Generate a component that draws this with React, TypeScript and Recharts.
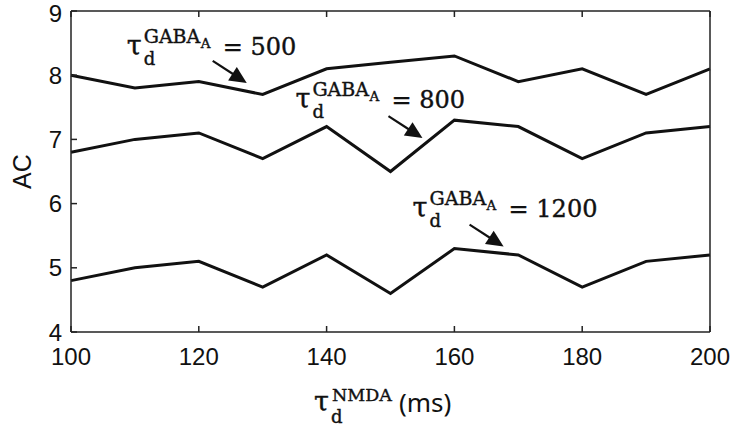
import React from "react";
import { LineChart, Line, XAxis, YAxis, ReferenceDot } from "recharts";

// tau_d^NMDA (ms)
const NMDA_TAU = [100, 110, 120, 130, 140, 150, 160, 170, 180, 190, 200];
// AC for each tau_d^GABA_A
const AC_GABA_500 = [8.0, 7.8, 7.9, 7.7, 8.1, 8.2, 8.3, 7.9, 8.1, 7.7, 8.1];
const AC_GABA_800 = [6.8, 7.0, 7.1, 6.7, 7.2, 6.5, 7.3, 7.2, 6.7, 7.1, 7.2];
const AC_GABA_1200 = [4.8, 5.0, 5.1, 4.7, 5.2, 4.6, 5.3, 5.2, 4.7, 5.1, 5.2];

const X_TICKS = [100, 120, 140, 160, 180, 200];
const Y_TICKS = [4, 5, 6, 7, 8, 9];

// annotation labels and where their arrows point (data units)
const GABA_LABELS = ["500", "800", "1200"];
const ARROW_TIP_X = [127.5, 155, 167.7];
const ARROW_TIP_Y = [7.88, 7.02, 5.33];

const data = NMDA_TAU.map((x, i) => ({
  x,
  g500: AC_GABA_500[i],
  g800: AC_GABA_800[i],
  g1200: AC_GABA_1200[i],
}));

const INK = "#111";
const FRAME = "#222";
const SANS = "'Liberation Sans', Arial, sans-serif";
const SERIF = "'DejaVu Serif', 'Liberation Serif', serif";

// tau glyph position relative to the arrow tail, per annotation
const TEXT_OFFSETS = [
  { dx: -86, dy: -6 },
  { dx: -93, dy: -8 },
  { dx: -57, dy: -8 },
];

function TauGaba({ x, y, value }: { x: number; y: number; value: string }) {
  return (
    <g fill={INK} stroke={INK} strokeWidth={0.4} fontFamily={SERIF}>
      <text x={x} y={y} fontSize={27}>τ</text>
      <text x={x + 17} y={y + 10} fontSize={18}>d</text>
      <text x={x + 17} y={y - 12} fontSize={19}>GABA</text>
      <text x={x + 74} y={y - 7} fontSize={13.5}>A</text>
      <text x={x + 96} y={y} fontSize={24}>= {value}</text>
    </g>
  );
}

function Annotation(props: any) {
  const { cx, cy, idx } = props;
  if (cx == null || cy == null) return null;
  const dx = 34;
  const dy = 22;
  const len = Math.hypot(dx, dy);
  const ux = dx / len;
  const uy = dy / len;
  const headLen = 17;
  const halfW = 8;
  const bx = cx - ux * headLen;
  const by = cy - uy * headLen;
  const nx = -uy;
  const ny = ux;
  const tailX = cx - dx;
  const tailY = cy - dy;
  const off = TEXT_OFFSETS[idx];
  return (
    <g>
      <line x1={tailX} y1={tailY} x2={bx + ux * 2} y2={by + uy * 2} stroke={INK} strokeWidth={2.2} />
      <polygon
        points={`${cx},${cy} ${bx + nx * halfW},${by + ny * halfW} ${bx - nx * halfW},${by - ny * halfW}`}
        fill={INK}
      />
      <TauGaba x={tailX + off.dx} y={tailY + off.dy} value={GABA_LABELS[idx]} />
    </g>
  );
}

function XLabel(props: any) {
  const vb = props.viewBox || {};
  const x0 = (vb.x ?? 71) + 243;
  const y0 = (vb.y ?? 332) + 79;
  return (
    <g fill={INK}>
      <g stroke={INK} strokeWidth={0.4} fontFamily={SERIF}>
        <text x={x0} y={y0} fontSize={27}>τ</text>
        <text x={x0 + 17} y={y0 + 12} fontSize={18}>d</text>
        <text x={x0 + 18} y={y0 - 10} fontSize={17.5}>NMDA</text>
      </g>
      <text x={x0 + 85} y={y0 + 1} fontSize={26} fontFamily="'Noto Sans', 'Open Sans', sans-serif">(ms)</text>
    </g>
  );
}

function YLabel(props: any) {
  const vb = props.viewBox || {};
  const cy = (vb.y ?? 11) + (vb.height ?? 321) / 2;
  return (
    <text
      x={22}
      y={cy}
      transform={`rotate(-90, 22, ${cy})`}
      textAnchor="middle"
      dominantBaseline="central"
      fontSize={25}
      fontFamily={SANS}
      fill={INK}
    >
      AC
    </text>
  );
}

const tickStyle = { fill: INK, fontSize: 24, fontFamily: SANS };
const lineStyle = { stroke: FRAME, strokeWidth: 1.5 };

export default function App() {
  return (
    <div style={{ position: "absolute", left: 0, top: 0, background: "#fff" }}>
      <LineChart
        width={734}
        height={426}
        data={data}
        margin={{ top: 10, right: 23, left: 0, bottom: 0 }}
      >
        <XAxis
          dataKey="x"
          type="number"
          domain={[100, 200]}
          ticks={X_TICKS}
          height={94}
          tick={tickStyle}
          tickSize={-6}
          tickMargin={22}
          axisLine={lineStyle}
          tickLine={lineStyle}
          label={<XLabel />}
        />
        <XAxis
          xAxisId="top"
          orientation="top"
          dataKey="x"
          type="number"
          domain={[100, 200]}
          ticks={X_TICKS}
          height={1}
          tickSize={-6}
          tickFormatter={() => ""}
          axisLine={lineStyle}
          tickLine={lineStyle}
        />
        <YAxis
          type="number"
          domain={[4, 9]}
          ticks={Y_TICKS}
          width={71}
          tick={tickStyle}
          tickSize={-6}
          tickMargin={15}
          axisLine={lineStyle}
          tickLine={lineStyle}
          label={<YLabel />}
        />
        <YAxis
          yAxisId="right"
          orientation="right"
          type="number"
          domain={[4, 9]}
          ticks={Y_TICKS}
          width={1}
          tickSize={-6}
          tickFormatter={() => ""}
          axisLine={lineStyle}
          tickLine={lineStyle}
        />
        <Line dataKey="g500" stroke={INK} strokeWidth={3} dot={false} isAnimationActive={false} />
        <Line dataKey="g800" stroke={INK} strokeWidth={3} dot={false} isAnimationActive={false} />
        <Line dataKey="g1200" stroke={INK} strokeWidth={3} dot={false} isAnimationActive={false} />
        {GABA_LABELS.map((_, i) => (
          <ReferenceDot
            key={i}
            x={ARROW_TIP_X[i]}
            y={ARROW_TIP_Y[i]}
            r={0}
            shape={(p: any) => <Annotation {...p} idx={i} />}
          />
        ))}
      </LineChart>
    </div>
  );
}
